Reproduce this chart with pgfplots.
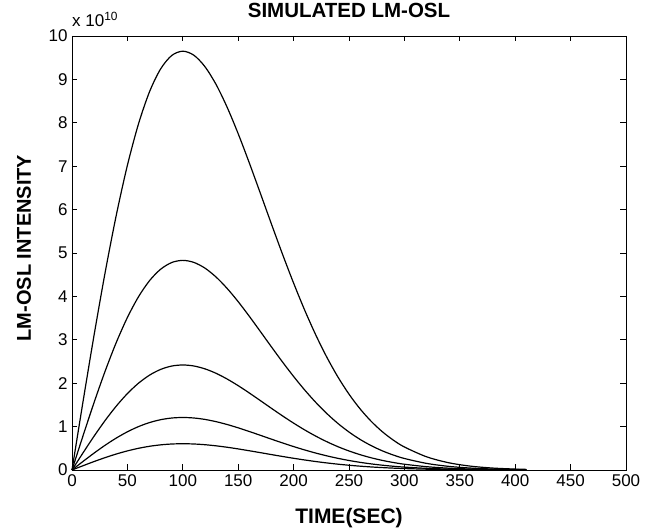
\documentclass[border=0pt]{standalone}
\usepackage{fontspec}
\setmainfont{Liberation Sans}
\usepackage{pgfplots}
\usepackage{pgfplotstable}
\pgfplotsset{compat=1.18}

% LM-OSL curves, intensity in units of 1e10
\pgfplotstableread{
t   a       b       c       d       e
0   0       0       0       0       0
10  1.5831  0.7924  0.3970  0.1985  0.0992
20  3.1191  1.5612  0.7822  0.3911  0.1956
30  4.5631  2.2839  1.1443  0.5722  0.2861
40  5.8750  2.9406  1.4733  0.7367  0.3683
50  7.0204  3.5138  1.7606  0.8803  0.4401
60  7.9735  3.9909  1.9996  0.9998  0.4999
70  8.7173  4.3632  2.1861  1.0931  0.5465
80  9.2424  4.6260  2.3178  1.1589  0.5794
90  9.5509  4.7804  2.3951  1.1976  0.5988
100 9.6500  4.8300  2.4200  1.2100  0.6050
110 9.5569  4.7834  2.3966  1.1983  0.5992
120 9.2931  4.6514  2.3305  1.1653  0.5826
130 8.8847  4.4469  2.2281  1.1140  0.5570
140 8.3597  4.1842  2.0964  1.0482  0.5241
150 7.7479  3.8780  1.9430  0.9715  0.4857
160 7.0778  3.5426  1.7749  0.8875  0.4437
170 6.3763  3.1915  1.5990  0.7995  0.3998
180 5.6675  2.8367  1.4213  0.7106  0.3553
190 4.9719  2.4885  1.2468  0.6234  0.3117
200 4.3064  2.1554  1.0799  0.5400  0.2700
210 3.6838  1.8438  0.9238  0.4619  0.2310
220 3.1125  1.5579  0.7805  0.3903  0.1951
230 2.5984  1.3005  0.6516  0.3258  0.1629
240 2.1435  1.0728  0.5375  0.2688  0.1344
250 1.7476  0.8747  0.4383  0.2191  0.1096
260 1.4084  0.7049  0.3532  0.1766  0.0883
270 1.1223  0.5617  0.2814  0.1407  0.0704
280 0.8838  0.4424  0.2217  0.1108  0.0554
290 0.6884  0.3446  0.1726  0.0863  0.0432
300 0.5303  0.2654  0.1330  0.0665  0.0332
320 0.3043  0.1523  0.0763  0.0382  0.0191
340 0.1670  0.0836  0.0419  0.0209  0.0105
360 0.0878  0.0440  0.0220  0.0110  0.0055
380 0.0443  0.0222  0.0111  0.0056  0.0028
400 0.0213  0.0107  0.0053  0.0027  0.0013
410 0.0146  0.0073  0.0037  0.0018  0.0009
}\osl

\begin{document}
\begin{tikzpicture}
\useasboundingbox (-72pt,-60pt) rectangle (587pt,470pt);
\begin{axis}[
  at={(0,0)}, anchor=south west,
  scale only axis,
  width=554pt, height=434pt,
  xmin=0, xmax=500, ymin=0, ymax=10,
  xtick={0,50,...,500}, ytick={0,1,...,10},
  tick align=inside,
  major tick length=5.5pt,
  axis line style={line width=0.8pt},
  every tick/.style={black, line width=0.8pt},
  tick label style={font=\fontsize{17}{19}\selectfont},
  xticklabel style={yshift=-1pt},
  yticklabel style={xshift=-1pt},
  /pgf/number format/assume math mode=true,
  xlabel={TIME(SEC)},
  ylabel={LM-OSL INTENSITY},
  xlabel style={font=\fontsize{21}{23}\selectfont\bfseries,
    at={(axis description cs:0.5,0)}, anchor=base, yshift=-53pt},
  ylabel style={font=\fontsize{20}{22}\selectfont\bfseries,
    at={(axis description cs:0,0.5)}, anchor=center, yshift=48pt, xshift=5pt},
  clip=false,
  cycle list={{black}},
  every axis plot/.append style={line width=1.2pt, smooth, line join=round},
]
\addplot table[x=t, y=a] {\osl};
\addplot table[x=t, y=b] {\osl};
\addplot table[x=t, y=c] {\osl};
\addplot table[x=t, y=d] {\osl};
\addplot table[x=t, y=e] {\osl};
\node[anchor=base west, inner sep=0pt, yshift=9pt, font=\fontsize{17}{19}\selectfont] at (rel axis cs:0,1) {x 10\textsuperscript{10}};
\node[anchor=base, inner sep=0pt, yshift=18.5pt, font=\fontsize{20.5}{22}\selectfont\bfseries] at (rel axis cs:0.5,1) {SIMULATED LM-OSL};
\end{axis}
\end{tikzpicture}
\end{document}
